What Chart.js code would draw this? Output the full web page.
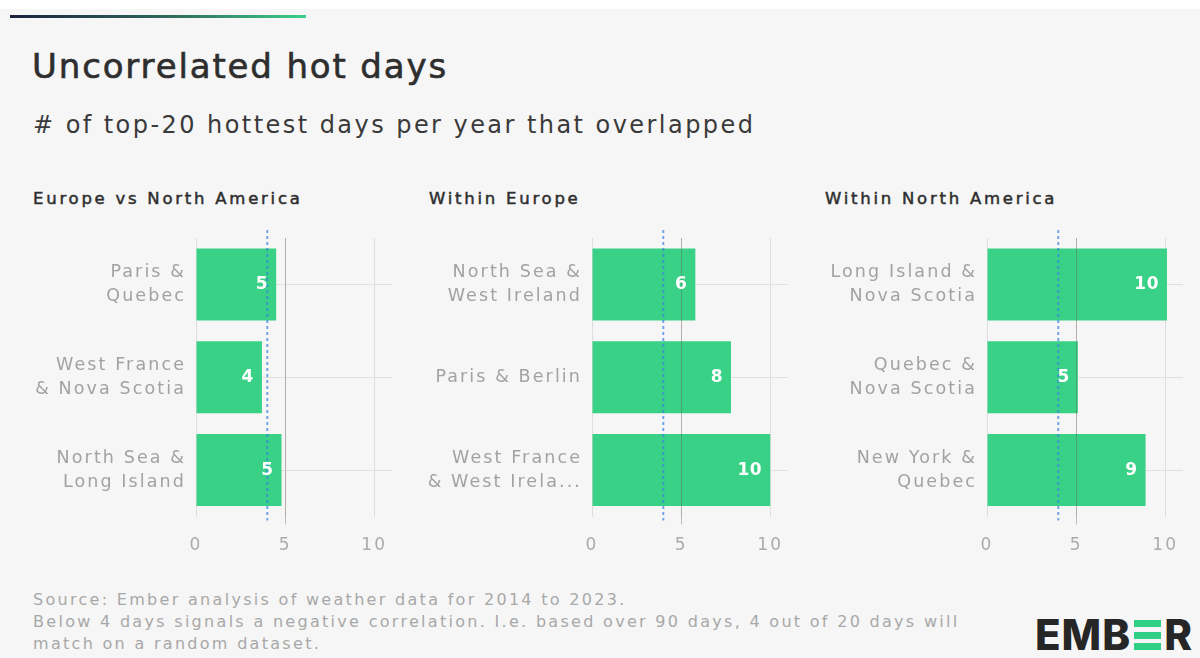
<!DOCTYPE html>
<html>
<head>
<meta charset="utf-8">
<script src="https://cdn.jsdelivr.net/npm/chart.js@4"></script>
<style>
  html, body { margin: 0; padding: 0; }
  body {
    width: 1200px; height: 658px; position: relative; overflow: hidden;
    background: #f6f6f6; font-family: "DejaVu Sans", sans-serif;
  }
  .topband { position: absolute; left: 0; top: 0; width: 1200px; height: 9px; background: #ffffff; }
  .accent {
    position: absolute; left: 10px; top: 15px; width: 296px; height: 3px;
    background: linear-gradient(to right, #1c2040, #2f6b5c 55%, #3ccf8a);
  }
  h1 {
    position: absolute; left: 32px; top: 46px; margin: 0; font-size: 34px; font-weight: 400;
    color: #2e2e2e; -webkit-text-stroke: 0.6px #2e2e2e; letter-spacing: 1.85px;
  }
  h2 { position: absolute; left: 33px; top: 111px; margin: 0; font-size: 24px; font-weight: 400; color: #3a3a3a; letter-spacing: 2.45px; }
  .panel-title { position: absolute; top: 189px; margin: 0; font-size: 16.5px; font-weight: 400; color: #2f2f2f; -webkit-text-stroke: 0.5px #2f2f2f; letter-spacing: 2.75px; }
  canvas { position: absolute; }
  .foot { position: absolute; left: 33px; top: 589px; font-size: 16px; line-height: 22px; color: #a8a8a8; letter-spacing: 2.3px; }
  .logo {
    position: absolute; left: 1035px; top: 617px; font-size: 42px; font-weight: 800;
    color: #262626; letter-spacing: 1px; font-family: "Inter", sans-serif; line-height: 36px;
  }
  .logo .e { display: inline-block; width: 27px; height: 30px; margin: 0 3px; position: relative; vertical-align: 0; }
  .logo .e i { position: absolute; left: 0; width: 27px; height: 7px; background: #2fcf85; }
</style>
</head>
<body>
<div class="topband"></div>
<div class="accent"></div>
<h1>Uncorrelated hot days</h1>
<h2># of top-20 hottest days per year that overlapped</h2>

<div class="panel-title" style="left:33px">Europe vs North America</div>
<div class="panel-title" style="left:429px">Within Europe</div>
<div class="panel-title" style="left:825px">Within North America</div>

<canvas id="chartEuNa" width="372" height="336" style="left:20px; top:220px"></canvas>
<canvas id="chartEu" width="372" height="336" style="left:416px; top:220px"></canvas>
<canvas id="chartNa" width="372" height="336" style="left:811px; top:220px"></canvas>

<div class="foot">
  Source: Ember analysis of weather data for 2014 to 2023.<br>
  Below 4 days signals a negative correlation. I.e. based over 90 days, 4 out of 20 days will<br>
  match on a random dataset.
</div>
<div class="logo">EMB<span class="e"><i style="top:0"></i><i style="top:11.5px"></i><i style="top:23px"></i></span>R</div>

<script>
// Pairs of regions and the average number of shared top-20 hottest days
const euNaLabels = [['Paris &', 'Quebec'], ['West France', '& Nova Scotia'], ['North Sea &', 'Long Island']];
const euNaValues = [4.5, 3.7, 4.8];

const euLabels = [['North Sea &', 'West Ireland'], 'Paris & Berlin', ['West France', '& West Irela...']];
const euValues = [5.8, 7.8, 10];

const naLabels = [['Long Island &', 'Nova Scotia'], ['Quebec &', 'Nova Scotia'], ['New York &', 'Quebec']];
const naValues = [10.1, 5.1, 8.9];

const xTicks = [0, 5, 10];
const randomThreshold = 4;   // days expected to match on a random dataset

const FONT = "'DejaVu Sans', sans-serif";

// the canvas state is reset whenever Chart.js sizes the canvas, so re-apply the wide tracking
const wideText = {
    id: 'wideText',
    beforeUpdate(chart) { chart.ctx.letterSpacing = '2.1px'; },
    beforeLayout(chart) { chart.ctx.letterSpacing = '2.1px'; },
    beforeDraw(chart) { chart.ctx.letterSpacing = '2.1px'; }
};

// values written inside the end of each bar
const barValueLabels = {
    id: 'barValueLabels',
    afterDatasetsDraw(chart) {
        const ctx = chart.ctx;
        const meta = chart.getDatasetMeta(0);
        const data = chart.data.datasets[0].data;
        ctx.save();
        ctx.letterSpacing = '0.5px';
        ctx.fillStyle = '#ffffff';
        ctx.font = 'bold 17px ' + FONT;
        ctx.textAlign = 'right';
        ctx.textBaseline = 'middle';
        meta.data.forEach((bar, i) => {
            ctx.fillText(Math.round(data[i]), bar.x - 8, bar.y);
        });
        ctx.restore();
    }
};

// reference lines: the 4-day random threshold and the 5 gridline over the bars
const refLines = {
    id: 'refLines',
    afterDatasetsDraw(chart) {
        const ctx = chart.ctx;
        const area = chart.chartArea;
        const x = chart.scales.x;
        ctx.save();
        const x5 = Math.round(x.getPixelForValue(5)) + 0.5;
        ctx.strokeStyle = 'rgba(110, 80, 80, 0.35)';
        ctx.lineWidth = 1;
        ctx.beginPath();
        ctx.moveTo(x5, area.top);
        ctx.lineTo(x5, area.bottom + 8);
        ctx.stroke();

        const x4 = x.getPixelForValue(randomThreshold);
        ctx.strokeStyle = 'rgba(60, 130, 225, 0.7)';
        ctx.lineWidth = 2;
        ctx.setLineDash([3, 3]);
        ctx.beginPath();
        ctx.moveTo(x4, area.top - 8);
        ctx.lineTo(x4, area.bottom + 4);
        ctx.stroke();
        ctx.restore();
    }
};

function makeChart(id, labels, values) {
    const ctx = document.getElementById(id).getContext('2d');
    return new Chart(ctx, {
        type: 'bar',
        data: {
            labels: labels,
            datasets: [{
                data: values,
                backgroundColor: '#38d185',
                borderWidth: 0,
                barPercentage: 1,
                categoryPercentage: 0.775
            }]
        },
        options: {
            indexAxis: 'y',
            responsive: false,
            animation: false,
            layout: { padding: { top: 18, right: 0, left: 0, bottom: 0 } },
            plugins: {
                legend: { display: false },
                tooltip: { enabled: false }
            },
            scales: {
                x: {
                    min: 0,
                    max: 11,
                    afterBuildTicks: (axis) => {
                        axis.ticks = xTicks.map(v => ({ value: v }));
                    },
                    afterFit: (axis) => {
                        axis.height = 39.5;
                        axis.paddingLeft = 0;
                        axis.paddingRight = 0;
                    },
                    grid: { color: '#dedede', drawTicks: false },
                    border: { display: false },
                    ticks: {
                        color: '#ababab',
                        padding: 19,
                        font: { size: 17, family: FONT }
                    }
                },
                y: {
                    afterFit: (axis) => {
                        axis.width = 176;
                        axis.paddingTop = 0;
                        axis.paddingBottom = 0;
                    },
                    grid: { color: '#e0e0e0', drawTicks: false, offset: false },
                    border: { display: false },
                    ticks: {
                        color: '#a2a2a2',
                        padding: 10,
                        font: { size: 17.5, family: FONT, lineHeight: 1.37 }
                    }
                }
            }
        },
        plugins: [wideText, refLines, barValueLabels]
    });
}

makeChart('chartEuNa', euNaLabels, euNaValues);
makeChart('chartEu', euLabels, euValues);
makeChart('chartNa', naLabels, naValues);
</script>
</body>
</html>
